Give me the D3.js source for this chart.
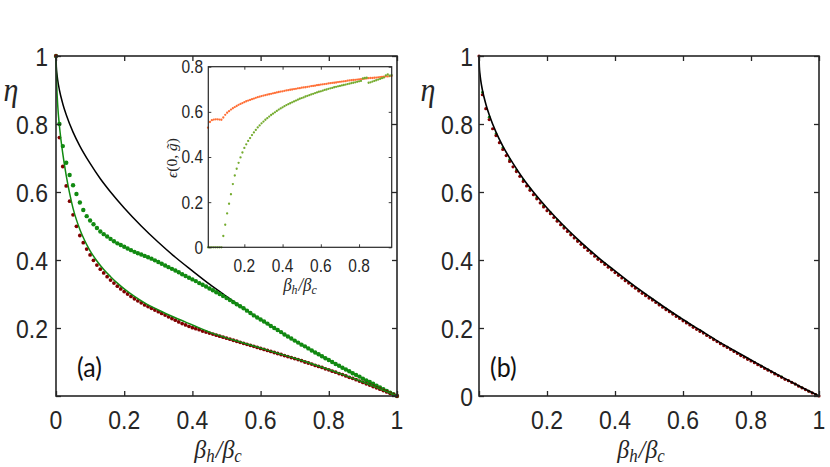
<!DOCTYPE html>
<html><head><meta charset="utf-8">
<script src="https://cdn.jsdelivr.net/npm/d3@7"></script>
<style>body{margin:0;background:#fff}</style>
</head><body><svg id="c" width="830" height="467"></svg>
<script>
// ---------- DATA ----------
// x grid of the sampled (dotted) series: 0, 0.01, ..., 1
const dotX = d3.range(101).map(i => i / 100);
// inset x grid: 0.01 ... 0.97
const insetX = d3.range(1, 98).map(i => i / 100);
// panel (b) green samples: 0.01, 0.03, ..., 0.99
const greenBX = d3.range(50).map(i => (2 * i + 1) / 100);

// black solid curve (both panels)
const blackX = [0,0.001,0.003,0.005,0.01,0.02,0.03,0.05,0.07,0.1,0.13,0.16,0.2,0.25,0.3,0.35,0.4,0.45,0.5,0.55,0.6,0.65,0.7,0.75,0.8,0.85,0.9,0.95,1];
const blackY = [1,0.968,0.945,0.929,0.900,0.859,0.827,0.776,0.735,0.684,0.639,0.600,0.553,0.500,0.452,0.408,0.368,0.329,0.293,0.258,0.225,0.194,0.163,0.134,0.106,0.078,0.051,0.025,0];

// panel (a) green solid curve
const greenLineX = [0,0.002,0.005,0.01,0.015,0.02,0.03,0.04,0.05,0.06,0.07,0.08,0.09,0.10,0.12,0.14,0.16,0.18,0.20,0.23,0.26,0.30,0.35,0.40,0.45,0.50,0.55,0.60,0.65,0.70,0.75,0.80,0.85,0.90,0.95,1.0];
const greenLineY = [1,0.92,0.855,0.795,0.75,0.712,0.648,0.596,0.552,0.518,0.490,0.466,0.445,0.427,0.397,0.372,0.351,0.332,0.315,0.293,0.274,0.253,0.230,0.209,0.188,0.171,0.156,0.141,0.126,0.111,0.095,0.078,0.060,0.041,0.021,0];

// panel (a) dark red dots
const redA = [1.000,0.760,0.675,0.618,0.573,0.533,0.499,0.472,0.451,0.432,
0.415,0.399,0.385,0.373,0.362,0.351,0.341,0.332,0.323,0.315,
0.307,0.300,0.293,0.286,0.280,0.274,0.268,0.263,0.258,0.253,
0.248,0.243,0.238,0.233,0.228,0.223,0.218,0.213,0.209,0.205,
0.201,0.198,0.195,0.191,0.188,0.185,0.182,0.179,0.176,0.173,
0.170,0.167,0.164,0.161,0.158,0.155,0.152,0.149,0.146,0.143,
0.140,0.137,0.134,0.131,0.128,0.125,0.122,0.119,0.116,0.113,
0.110,0.107,0.104,0.100,0.097,0.094,0.090,0.087,0.084,0.080,
0.077,0.073,0.070,0.066,0.063,0.059,0.055,0.052,0.048,0.044,
0.040,0.036,0.032,0.028,0.024,0.020,0.016,0.012,0.008,0.004,0.000];

// panel (a) green dots
const greenA = [1.000,0.800,0.735,0.686,0.650,0.620,0.594,0.569,0.547,0.529,
0.516,0.505,0.494,0.484,0.476,0.469,0.462,0.455,0.449,0.444,
0.439,0.434,0.429,0.424,0.420,0.416,0.412,0.408,0.404,0.399,
0.394,0.389,0.384,0.379,0.374,0.369,0.364,0.358,0.353,0.348,
0.343,0.338,0.332,0.327,0.322,0.316,0.311,0.305,0.300,0.294,
0.288,0.282,0.276,0.270,0.264,0.258,0.251,0.244,0.237,0.231,
0.225,0.219,0.213,0.206,0.200,0.194,0.188,0.181,0.175,0.169,
0.163,0.157,0.151,0.146,0.140,0.134,0.128,0.123,0.117,0.111,
0.106,0.100,0.094,0.089,0.083,0.078,0.073,0.067,0.062,0.057,
0.051,0.046,0.041,0.036,0.030,0.025,0.020,0.015,0.010,0.005,0.000];

// inset: orange dots
const insetOrange = [0.530,0.555,0.563,0.566,0.567,0.567,0.566,0.565,0.575,0.587,
0.596,0.603,0.610,0.616,0.621,0.626,0.631,0.635,0.639,0.643,
0.647,0.650,0.653,0.656,0.659,0.662,0.665,0.667,0.670,0.672,
0.674,0.676,0.678,0.680,0.682,0.684,0.686,0.688,0.690,0.691,
0.693,0.695,0.696,0.698,0.699,0.701,0.702,0.704,0.705,0.707,
0.708,0.709,0.711,0.712,0.714,0.715,0.716,0.718,0.719,0.721,
0.722,0.723,0.724,0.726,0.727,0.728,0.729,0.730,0.732,0.733,
0.734,0.735,0.736,0.738,0.739,0.740,0.741,0.742,0.743,0.744,
0.745,0.746,0.747,0.748,0.749,0.750,0.750,0.751,0.752,0.753,
0.754,0.755,0.756,0.757,0.757,0.758,0.759];

// inset: green dots
const insetGreen = [0,0,0,0,0,0,0,0,0.050,0.100,
0.150,0.193,0.235,0.280,0.318,0.348,0.374,0.398,0.420,0.440,
0.456,0.471,0.484,0.497,0.509,0.520,0.531,0.540,0.549,0.557,
0.565,0.572,0.579,0.586,0.592,0.598,0.604,0.610,0.615,0.620,
0.625,0.630,0.634,0.638,0.642,0.646,0.650,0.654,0.658,0.661,
0.664,0.668,0.671,0.674,0.677,0.680,0.683,0.686,0.689,0.691,
0.694,0.697,0.699,0.702,0.704,0.706,0.709,0.711,0.713,0.715,
0.717,0.719,0.721,0.723,0.725,0.727,0.729,0.731,0.733,0.735,
0.737,0.748,0.750,0.751,0.729,0.731,0.734,0.737,0.740,0.743,
0.746,0.749,0.752,0.762,0.766,0.760,0.763];

// panel (b) dark red dots
const redB = [1.000,0.886,0.845,0.813,0.786,0.766,0.745,0.725,0.707,0.690,
0.674,0.660,0.646,0.631,0.618,0.605,0.592,0.580,0.568,0.556,
0.545,0.536,0.525,0.514,0.504,0.494,0.484,0.474,0.465,0.455,
0.446,0.437,0.428,0.420,0.411,0.402,0.395,0.387,0.379,0.371,
0.363,0.355,0.347,0.339,0.332,0.324,0.317,0.309,0.302,0.295,
0.288,0.282,0.275,0.268,0.261,0.254,0.248,0.241,0.234,0.228,
0.221,0.215,0.209,0.202,0.196,0.190,0.185,0.178,0.172,0.166,
0.160,0.154,0.148,0.143,0.137,0.131,0.125,0.119,0.114,0.108,
0.103,0.098,0.092,0.087,0.081,0.076,0.071,0.065,0.060,0.055,
0.049,0.045,0.040,0.035,0.029,0.024,0.019,0.014,0.009,0.004,0.000];

// panel (b) green dots
const greenB = [0.893,0.820,0.771,0.730,0.695,0.664,0.635,0.609,0.584,0.560,
0.539,0.517,0.497,0.477,0.458,0.440,0.423,0.405,0.389,0.373,
0.357,0.341,0.326,0.311,0.297,0.284,0.270,0.256,0.243,0.230,
0.217,0.204,0.192,0.179,0.167,0.155,0.144,0.132,0.120,0.109,
0.099,0.088,0.077,0.066,0.056,0.045,0.035,0.024,0.014,0.004];

// ticks
const mainTicks = [0,0.2,0.4,0.6,0.8,1];
const mainTickLabelsX = ["0","0.2","0.4","0.6","0.8","1"];
const mainTickLabelsY = ["0","0.2","0.4","0.6","0.8","1"];
const insetXTicks = [0.2,0.4,0.6,0.8];
const insetYTicks = [0,0.2,0.4,0.6,0.8];
const insetXLabels = ["0.2","0.4","0.6","0.8"];
const insetYLabels = ["0","0.2","0.4","0.6","0.8"];

// ---------- DRAWING ----------
const svg = d3.select('#c');
svg.append('rect').attr('width',830).attr('height',467).attr('fill','#fff');
const AX = '#262626';
const RED = '#800000', GREEN = '#118a11', ORANGE = '#ff6f36', LGREEN = '#74ab2e';
const SANS = '"Liberation Sans", Arial, sans-serif';
const SERIF = '"Liberation Serif", "DejaVu Serif", serif';

function txt(x, y, s, o = {}) {
  return svg.append('g').attr('transform', `translate(${x},${y}) scale(1,${o.sy || 1.15})`)
    .append('text').attr('x', 0).attr('y', 0)
    .attr('font-family', o.ff || SANS).attr('font-size', o.fs || 23)
    .attr('font-style', o.it ? 'italic' : 'normal')
    .attr('text-anchor', o.anchor || 'middle').attr('fill', o.fill || AX)
    .text(s);
}

function frame(x, y, tickLen, xt, yt, sw) {
  const [x0, x1] = x.range(), [y1, y0] = y.range();
  const g = svg.append('g');
  const deco = sel => { sel.select('.domain').remove(); sel.selectAll('line').attr('stroke', AX).attr('stroke-width', sw); };
  g.append('g').attr('transform', `translate(0,${y1})`).call(d3.axisBottom(x).tickValues(xt).tickSize(-tickLen).tickSizeOuter(0).tickFormat('')).call(deco);
  g.append('g').attr('transform', `translate(0,${y0})`).call(d3.axisTop(x).tickValues(xt).tickSize(-tickLen).tickSizeOuter(0).tickFormat('')).call(deco);
  g.append('g').attr('transform', `translate(${x0},0)`).call(d3.axisLeft(y).tickValues(yt).tickSize(-tickLen).tickSizeOuter(0).tickFormat('')).call(deco);
  g.append('g').attr('transform', `translate(${x1},0)`).call(d3.axisRight(y).tickValues(yt).tickSize(-tickLen).tickSizeOuter(0).tickFormat('')).call(deco);
  g.append('rect').attr('x', x0).attr('y', y0).attr('width', x1 - x0).attr('height', y1 - y0)
    .attr('fill', 'none').attr('stroke', AX).attr('stroke-width', sw + 0.3);
}

function lineP(x, y, xs, ys, color, w) {
  const pts = xs.map((v, i) => [v, ys[i]]);
  svg.append('path').datum(pts).attr('fill', 'none').attr('stroke', color).attr('stroke-width', w)
    .attr('d', d3.line().x(d => x(d[0])).y(d => y(d[1])).curve(d3.curveMonotoneX));
}
function dots(x, y, xs, ys, color, r) {
  svg.append('g').selectAll('circle').data(xs.map((v, i) => [v, ys[i]])).join('circle')
    .attr('cx', d => x(d[0])).attr('cy', d => y(d[1])).attr('r', r).attr('fill', color);
}

function betaLabel(cx, y, fs) {
  const t = svg.append('g').attr('transform', `translate(${cx},${y}) scale(1,1.08)`).append('text')
    .attr('font-family', SERIF).attr('font-size', fs).attr('font-style', 'italic')
    .attr('text-anchor', 'middle').attr('fill', AX);
  t.append('tspan').text('β');
  t.append('tspan').attr('font-size', fs * 0.7).attr('dy', fs * 0.15).text('h');
  t.append('tspan').attr('dy', -fs * 0.15).attr('dx', fs * 0.05).text('/');
  t.append('tspan').text('β');
  t.append('tspan').attr('font-size', fs * 0.7).attr('dy', fs * 0.15).text('c');
}

// ----- Panel (a) -----
const xa = d3.scaleLinear().domain([0, 1]).range([56, 397]);
const ya = d3.scaleLinear().domain([0, 1]).range([396, 56]);
lineP(xa, ya, blackX, blackY, '#000', 1.5);
dots(xa, ya, dotX, greenA, GREEN, 2.2);
dots(xa, ya, dotX, redA, RED, 1.9);
lineP(xa, ya, greenLineX, greenLineY, GREEN, 1.5);
frame(xa, ya, 5, mainTicks, mainTicks, 1.3);
mainTicks.forEach((t, i) => txt(xa(t), 429, mainTickLabelsX[i]));
mainTicks.forEach((t, i) => { if (t > 0) txt(48, ya(t) + 9.5, mainTickLabelsY[i], { anchor: 'end' }); });
txt(11, 101, 'η', { ff: SERIF, it: true, fs: 30, sy: 1.1 });
betaLabel(218, 458, 24);
txt(77, 377, '(a)', { ff: 'Lato, "Open Sans", sans-serif', fs: 25, anchor: 'start', sy: 1.1, fill: '#111' });

// ----- Inset -----
const xi = d3.scaleLinear().domain([0.0115, 0.9707]).range([208.3, 391.7]);
const yi = d3.scaleLinear().domain([0, 0.8]).range([247.3, 66.7]);
svg.append('rect').attr('x', 208.3).attr('y', 66.7).attr('width', 183.4).attr('height', 180.6).attr('fill', '#fff');
dots(xi, yi, insetX, insetOrange, ORANGE, 1.15);
dots(xi, yi, insetX, insetGreen, LGREEN, 1.15);
frame(xi, yi, 3, insetXTicks, insetYTicks, 0.9);
insetXTicks.forEach((t, i) => txt(xi(t), 272, insetXLabels[i], { fs: 15.5 }));
insetYTicks.forEach((t, i) => txt(203, yi(t) + 6.4, insetYLabels[i], { fs: 15.5, anchor: 'end' }));
{
  const t = svg.append('g').attr('transform', 'translate(177,158) rotate(-90)').append('text')
    .attr('font-family', SERIF).attr('font-size', 15.5).attr('text-anchor', 'middle').attr('fill', AX);
  t.append('tspan').attr('font-style', 'italic').text('ϵ');
  t.append('tspan').text('(0, ');
  t.append('tspan').attr('font-style', 'italic').text('g\u0303');
  t.append('tspan').text(')');
}
betaLabel(300, 291, 17);

// ----- Panel (b) -----
const xb = d3.scaleLinear().domain([0, 1]).range([479, 819]);
const yb = d3.scaleLinear().domain([0, 1]).range([396, 56]);
dots(xb, yb, greenBX, greenB, GREEN, 1.4);
dots(xb, yb, dotX, redB, RED, 1.6);
lineP(xb, yb, blackX, blackY, '#000', 1.6);
frame(xb, yb, 5, mainTicks, mainTicks, 1.3);
mainTicks.forEach((t, i) => { if (t > 0) txt(xb(t), 429, mainTickLabelsX[i]); });
mainTicks.forEach((t, i) => txt(473, yb(t) + 9.5, mainTickLabelsY[i], { anchor: 'end' }));
txt(428, 101, 'η', { ff: SERIF, it: true, fs: 30, sy: 1.1 });
betaLabel(641, 458, 24);
txt(490, 377, '(b)', { ff: 'Lato, "Open Sans", sans-serif', fs: 25, anchor: 'start', sy: 1.1, fill: '#111' });
</script></body></html>
